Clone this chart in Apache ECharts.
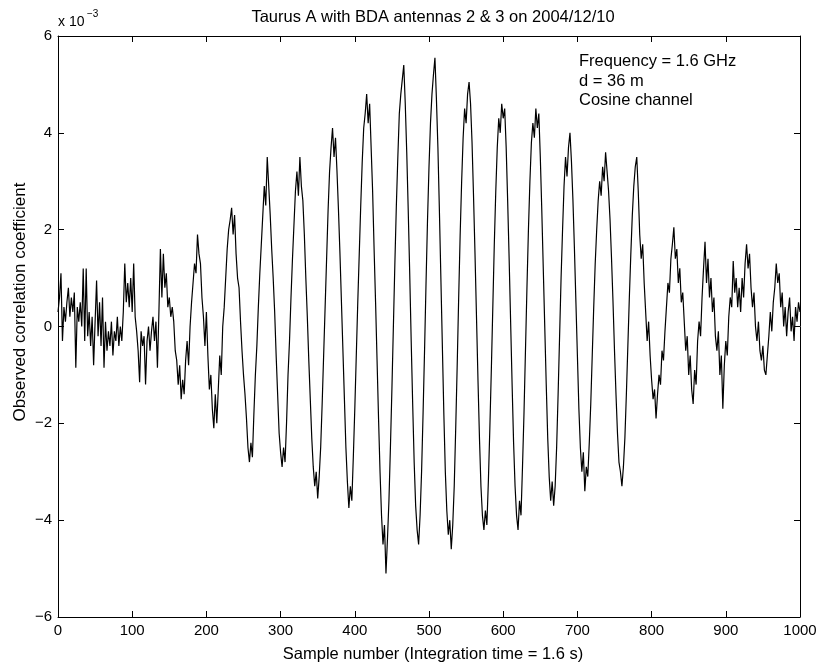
<!DOCTYPE html>
<html><head><meta charset="utf-8">
<script src="https://cdn.jsdelivr.net/npm/echarts/dist/echarts.min.js"></script>
<style>html,body{margin:0;padding:0;background:#fff}#c{width:824px;height:668px}</style>
</head><body><div id="c"></div>
<script>
const sampleStep = 2;
// Observed correlation coefficient, in units of 1e-3
const correlation = [
 0.3, 0.6, 1.1, -0.3, 0.4, 0.1, 0.5, 0.8, 0.2, 0.6,
 0.3, 0.7, -0.85, 0.4, 0.1, 0.5, 0.0, 1.2, -0.3, 1.2,
 -0.2, 0.3, -0.4, 0.2, -0.8, 0.1, 0.95, -0.2, 0.5, -0.4,
 0.6, -0.85, 0.1, -0.5, -0.1, -0.4, 0.1, -0.6, -0.1, -0.3,
 0.2, -0.4, 0.0, -0.3, 0.3, 1.3, 0.5, 0.9, 0.4, 1.0,
 0.3, 1.3, 0.2, -0.1, -0.5, -1.15, -0.1, -0.4, -0.2, -1.2,
 -0.3, 0.0, -0.5, -0.1, 0.2, -0.3, 0.1, -0.85, 0.3, 1.6,
 0.6, 1.5, 0.8, 1.1, 0.4, 0.6, 0.2, 0.4, 0.1, -0.5,
 -0.7, -1.2, -0.8, -1.5, -1.1, -1.4, -0.7, -0.3, -0.8, 0.0,
 0.5, 0.9, 1.3, 1.1, 1.9, 1.5, 1.3, 0.6, 0.2, -0.4,
 0.3, -0.6, -1.3, -1.0, -1.7, -2.1, -1.4, -2.0, -1.3, -0.6,
 -1.0, 0.0, 0.4, 1.0, 1.6, 2.0, 2.2, 2.45, 1.9, 2.3,
 1.5, 1.0, 0.8, 0.1, -0.5, -1.0, -1.4, -1.9, -2.5, -2.8,
 -2.4, -2.7, -1.8, -1.0, -0.4, 0.4, 1.1, 1.7, 2.3, 2.9,
 2.5, 3.5, 2.9, 2.3, 1.6, 1.0, 0.3, -0.6, -1.4, -2.2,
 -2.6, -2.9, -2.5, -2.8, -2.0, -1.0, -0.3, 0.6, 1.4, 2.1,
 2.8, 3.2, 2.7, 3.5, 2.9, 2.6, 1.9, 1.0, 0.2, -0.7,
 -1.5, -2.3, -2.9, -3.3, -3.0, -3.55, -3.1, -2.5, -1.6, -0.6,
 0.4, 1.4, 2.4, 3.2, 3.7, 4.1, 3.5, 3.9, 3.2, 2.4,
 1.5, 0.5, -0.5, -1.5, -2.5, -3.2, -3.75, -3.3, -3.6, -2.7,
 -1.7, -0.6, 0.5, 1.5, 2.5, 3.4, 4.1, 4.4, 4.8, 4.2,
 4.6, 3.7, 2.8, 1.6, 0.5, -0.7, -1.9, -3.0, -3.9, -4.5,
 -4.1, -5.1, -4.4, -3.6, -2.5, -1.3, 0.0, 1.3, 2.5, 3.5,
 4.4, 4.8, 5.1, 5.4, 4.6, 3.6, 2.4, 1.1, -0.3, -1.6,
 -2.8, -3.7, -4.2, -4.5, -3.9, -3.0, -1.8, -0.5, 0.9, 2.2,
 3.3, 4.2, 4.8, 5.2, 5.55, 4.7, 3.7, 2.4, 1.0, -0.4,
 -1.8, -3.0, -3.8, -4.3, -4.0, -4.6, -4.1, -3.3, -2.1, -0.8,
 0.6, 1.9, 3.0, 3.9, 4.5, 4.2, 4.8, 5.05, 4.6, 3.8,
 2.7, 1.5, 0.2, -1.1, -2.3, -3.3, -3.9, -4.2, -3.8, -4.1,
 -3.2, -2.1, -0.9, 0.4, 1.7, 2.8, 3.7, 4.3, 4.0, 4.6,
 4.3, 4.5, 3.7, 2.6, 1.4, 0.1, -1.2, -2.4, -3.3, -3.9,
 -4.2, -3.6, -3.9, -2.9, -1.8, -0.5, 0.8, 2.0, 3.0, 3.8,
 4.2, 3.9, 4.5, 4.1, 4.4, 3.5, 2.4, 1.2, 0.0, -1.2,
 -2.3, -3.1, -3.6, -3.2, -3.7, -3.3, -2.5, -1.4, -0.2, 1.0,
 2.0, 2.9, 3.5, 3.1, 3.7, 4.0, 3.4, 2.6, 1.6, 0.5,
 -0.6, -1.7, -2.5, -3.0, -2.6, -3.4, -2.9, -3.1, -2.4, -1.6,
 -0.6, 0.4, 1.3, 2.0, 2.6, 3.0, 2.7, 3.3, 3.0, 3.6,
 3.2, 2.8, 2.2, 1.4, 0.5, -0.5, -1.4, -2.2, -2.8, -3.0,
 -3.3, -2.9, -2.3, -1.4, -0.4, 0.6, 1.5, 2.3, 2.9, 3.3,
 3.5, 2.8, 1.9, 1.4, 1.7, 0.9, 0.3, -0.3, 0.1, -0.6,
 -1.1, -1.5, -1.3, -1.9, -1.4, -1.0, -1.2, -0.5, -0.7, -0.1,
 0.4, 0.9, 0.7, 1.4, 1.7, 2.05, 1.4, 1.6, 0.9, 1.2,
 0.5, 0.7, 0.1, -0.5, -0.2, -1.0, -0.6, -1.3, -1.6, -0.9,
 -1.2, -0.3, 0.1, -0.2, 0.6, 1.2, 1.75, 0.9, 1.4, 0.6,
 1.0, 0.3, 0.6, -0.2, -0.5, -0.1, -1.0, -0.6, -1.7, -0.8,
 -0.3, -0.6, 0.2, 0.6, 0.4, 1.35, 0.7, 1.0, 0.4, 0.8,
 0.3, 1.0, 0.6, 1.3, 1.7, 1.2, 1.5, 0.8, 0.4, 0.7,
 0.0, -0.3, 0.1, -0.5, -0.7, -0.4, -0.9, -1.0, -0.6, -0.2,
 0.3, -0.1, 0.5, 0.8, 1.3, 0.9, 1.1, 0.4, 0.7, 0.0,
 0.4, -0.2, 0.3, 0.6, -0.1, 0.2, -0.3, 0.4, 0.1, 0.5,
 0.3
];
const xRange = [0, 1000];
const xTickStep = 100;
const yRange = [-6, 6];
const yTickStep = 2;
const titleText = 'Taurus A with BDA antennas 2 & 3 on 2004/12/10';
const xLabelText = 'Sample number (Integration time = 1.6 s)';
const yLabelText = 'Observed correlation coefficient';
const exponentBase = 'x 10';
const exponentPower = '\u22123';
const annotationLines = ['Frequency = 1.6 GHz', 'd = 36 m', 'Cosine channel'];

const FONT = '"Liberation Sans", Arial, Helvetica, sans-serif';
const FS = 15;
const FT = 16.5;
const chart = echarts.init(document.getElementById('c'), null, {renderer: 'canvas'});
const tickStyle = {inside: true, length: 6, lineStyle: {color: '#000', width: 1}};
const lineStyle = {show: true, onZero: false, lineStyle: {color: '#000', width: 1}};
const labelStyle = {color: '#000', fontSize: FS, fontFamily: FONT};
const minus = v => String(v).replace('-', '\u2212');

function txt(text, x, y, align, valign, size, extra) {
  return Object.assign({
    type: 'text', x: x, y: y, silent: true,
    style: {text: text, fill: '#000', font: size + 'px ' + FONT,
      textAlign: align, textVerticalAlign: valign, align: align, verticalAlign: valign}
  }, extra || {});
}

const plotL = 58, plotR = 800, plotT = 36, plotB = 617;
const cx = (plotL + plotR) / 2 + 4;

chart.setOption({
  animation: false,
  backgroundColor: '#fff',
  grid: {left: plotL, right: 824 - plotR, top: plotT, bottom: 668 - plotB, containLabel: false},
  xAxis: [
    {type: 'value', min: xRange[0], max: xRange[1], interval: xTickStep, position: 'bottom',
     axisLine: lineStyle, axisTick: tickStyle, splitLine: {show: false},
     axisLabel: Object.assign({margin: 6, formatter: v => String(v)}, labelStyle)},
    {type: 'value', min: xRange[0], max: xRange[1], interval: xTickStep, position: 'top',
     axisLine: lineStyle, axisTick: tickStyle, splitLine: {show: false}, axisLabel: {show: false}}
  ],
  yAxis: [
    {type: 'value', min: yRange[0], max: yRange[1], interval: yTickStep, position: 'left',
     axisLine: lineStyle, axisTick: tickStyle, splitLine: {show: false},
     axisLabel: Object.assign({margin: 6, formatter: minus}, labelStyle)},
    {type: 'value', min: yRange[0], max: yRange[1], interval: yTickStep, position: 'right',
     axisLine: lineStyle, axisTick: tickStyle, splitLine: {show: false}, axisLabel: {show: false}}
  ],
  series: [{
    type: 'line', xAxisIndex: 0, yAxisIndex: 0,
    data: correlation.map((v, k) => [k * sampleStep, v]),
    symbol: 'none', showSymbol: false,
    lineStyle: {color: '#000', width: 1.2}
  }],
  graphic: [
    txt(titleText, cx, 17, 'center', 'middle', FT),
    txt(xLabelText, cx, 654, 'center', 'middle', FT),
    txt(yLabelText, 20, 302, 'center', 'middle', 17, {rotation: Math.PI / 2}),
    txt(exponentBase, 58, 22, 'left', 'middle', 14),
    txt(exponentPower, 87, 14, 'left', 'middle', 10),
    txt(annotationLines[0], 579, 61, 'left', 'middle', FT),
    txt(annotationLines[1], 579, 81, 'left', 'middle', FT),
    txt(annotationLines[2], 579, 100, 'left', 'middle', FT)
  ]
});
</script>
</body></html>
